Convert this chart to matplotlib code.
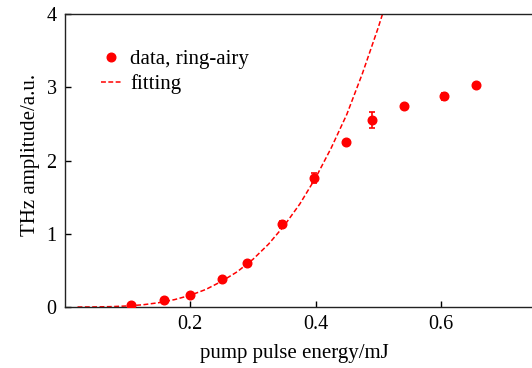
import matplotlib
matplotlib.use("Agg")
import matplotlib.pyplot as plt

# data points
energy = [0.105, 0.158, 0.199, 0.251, 0.290, 0.346, 0.397, 0.449, 0.491, 0.542, 0.605, 0.657]
amplitude = [0.027, 0.09, 0.164, 0.382, 0.596, 1.13, 1.757, 2.248, 2.553, 2.74, 2.876, 3.026]
amp_err = [0.01, 0.02, 0.02, 0.02, 0.03, 0.05, 0.07, 0.02, 0.11, 0.03, 0.05, 0.02]

# fitting curve
fit_energy = [0.02, 0.025, 0.05, 0.075, 0.10, 0.125, 0.15, 0.175, 0.20, 0.225, 0.25, 0.275,
              0.30, 0.325, 0.35, 0.375, 0.40, 0.425, 0.45, 0.475, 0.50, 0.51]
fit_amp = [0.0, 0.0001, 0.0013, 0.0054, 0.0145, 0.031, 0.059, 0.101, 0.16, 0.240, 0.35, 0.481,
           0.65, 0.858, 1.11, 1.407, 1.76, 2.17, 2.63, 3.19, 3.81, 4.08]

xticks = [0.2, 0.4, 0.6]
yticks = [0, 1, 2, 3, 4]

serif = "Liberation Serif"
fig = plt.figure(figsize=(5.32, 3.68), dpi=100)
ax = fig.add_axes([65/532, 61/368, (566-65)/532, 293/368])

red = "#ff0000"
ax.plot(fit_energy, fit_amp, "--", color=red, lw=1.1, dashes=(3.2, 1.6), label="fitting", zorder=2)
ax.errorbar(energy, amplitude, yerr=amp_err, fmt="none", ecolor=red, capsize=2.5,
            elinewidth=1.2, capthick=1.2, zorder=3)
ax.plot(energy, amplitude, "o", color=red, ms=6.2, mec=red, label="data, ring-airy", zorder=4)

ax.set_xlim(0, 0.8)
ax.set_ylim(0, 4)
ax.set_xticks(xticks)
ax.set_yticks(yticks)
ax.set_xticklabels(["0.2", "0.4", "0.6"])
ax.set_yticklabels(["0", "1", "2", "3", "4"])
ax.tick_params(direction="in", length=4, width=1, labelsize=14.5, pad=6)
for lab in ax.get_xticklabels() + ax.get_yticklabels():
    lab.set_family(serif)
for s in ax.spines.values():
    s.set_linewidth(1.0)
    s.set_color("#222222")

ax.set_xlabel("pump pulse energy/mJ", fontsize=15, family=serif)
ax.set_ylabel("THz amplitude/a.u.", fontsize=15, family=serif)
ax.xaxis.set_label_coords(0.457, -0.125)
ax.yaxis.set_label_coords(-0.05, 0.519)

handles, labels = ax.get_legend_handles_labels()
order = [labels.index("data, ring-airy"), labels.index("fitting")]
h = [handles[i] for i in order]
l = [labels[i] for i in order]
leg = ax.legend(h, l, loc="upper left", bbox_to_anchor=(0.072, 0.878), frameon=False,
                prop={"family": serif, "size": 15}, handlelength=1.0,
                handletextpad=0.4, labelspacing=0.25, borderaxespad=0, borderpad=0)

fig.savefig("out.png", dpi=100)
